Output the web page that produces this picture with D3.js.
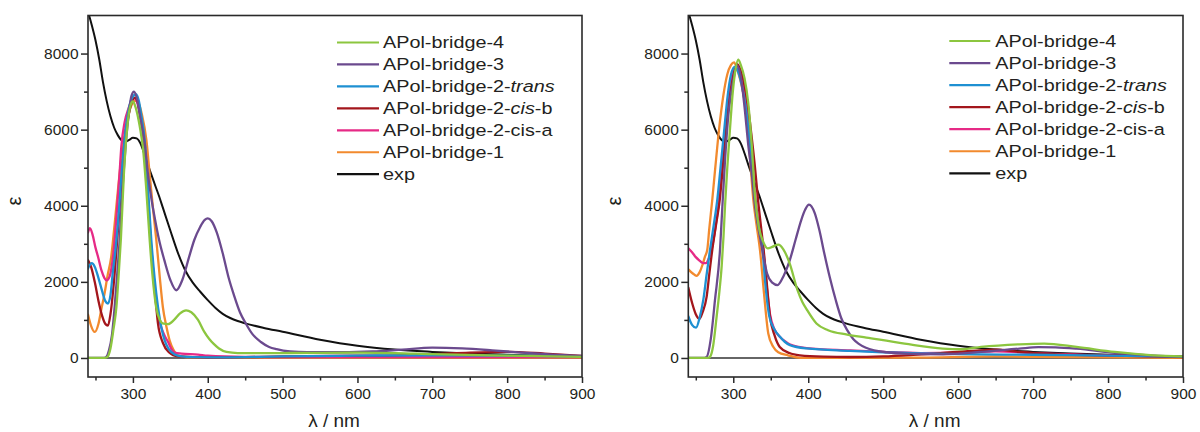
<!DOCTYPE html>
<html><head><meta charset="utf-8">
<script src="https://cdn.jsdelivr.net/npm/d3@7"></script>
<style>
body{margin:0;background:#fff}
svg{display:block}
text{font-family:"Liberation Sans",Arial,Helvetica,sans-serif;fill:#231f20}
</style>
</head><body>
<svg id="c" width="1200" height="432"></svg>
<script>
// ---------- data: [wavelength nm, epsilon] ----------
const expData = [[240,9100],[245,8750],[250,8350],[255,7850],[260,7250],[265,6750],[270,6350],[275,6050],[280,5850],[285,5720],[290,5690],[295,5730],[300,5790],[305,5770],[310,5640],[315,5380],[320,5080],[325,4800],[330,4520],[335,4250],[340,3950],[350,3350],[360,2770],[370,2300],[380,1980],[390,1740],[400,1520],[410,1320],[420,1160],[430,1050],[440,970],[450,910],[475,790],[500,690],[550,480],[600,320],[650,220],[700,160],[750,115],[800,85],[850,60],[900,40]];

// left panel
const leftBridge4 = [[240,0],[262,0],[266,30],[270,250],[274,750],[278,1350],[281,2200],[284,3150],[288,4850],[293,6170],[297,6650],[300,6740],[304,6560],[309,6100],[313.5,5500],[318,4400],[322.4,3100],[326,2200],[331,1340],[336,1000],[341,900],[347,890],[355,1000],[363,1170],[371,1250],[378,1200],[387,1000],[395,700],[402,500],[408,370],[415,250],[425,160],[440,130],[500,130],[600,140],[650,130],[700,100],[800,60],[900,30]];
const leftBridge3 = [[240,0],[260,0],[264,20],[268,200],[272,600],[275.6,1340],[279,2200],[282.3,3100],[286,4400],[290,5500],[295,6500],[298,6880],[301.5,7000],[305,6850],[310,6300],[316,5600],[320,4850],[325,4150],[329,3700],[335,3100],[342,2570],[350,2050],[358,1780],[366,2050],[375,2650],[382,3100],[390,3450],[396,3630],[400,3670],[405,3600],[412,3300],[420,2750],[428,2100],[435,1650],[443,1200],[451,900],[460,620],[471,420],[482,290],[492,230],[510,170],[533,150],[580,150],[620,170],[660,220],[700,270],[740,250],[780,200],[820,140],[860,90],[900,55]];
const leftTrans = [[240,2350],[245,2490],[249,2400],[254,2100],[259,1750],[263,1500],[266.7,1430],[270,1650],[273,2220],[277,2900],[280,3535],[283.5,4450],[286.8,5290],[290,5950],[293.4,6430],[298,6800],[304,6930],[308,6750],[311,6400],[315.7,5730],[320,4500],[324.6,3100],[329,2100],[333.5,1340],[338,800],[342.4,460],[348,230],[355.8,90],[365,40],[380,20],[420,15],[500,40],[600,60],[700,70],[800,60],[900,40]];
const leftCisB = [[240,2570],[244,2400],[249,2000],[254,1500],[259,1100],[263,900],[266.7,850],[270,1150],[275.6,2220],[279,3100],[282.3,3975],[286,5000],[289,5730],[294,6350],[298,6700],[302.5,6840],[306,6750],[310,6350],[315,5700],[319,4600],[323.7,3100],[328,2100],[333.5,900],[340,400],[348,150],[360,40],[400,10],[450,20],[500,40],[600,60],[650,70],[700,100],[750,140],[800,160],[850,115],[900,55]];
const leftCisA = [[240,3300],[242.5,3410],[246,3250],[250,2900],[253.4,2660],[258,2300],[262,2100],[265,2040],[269,2150],[273.4,2660],[276,3200],[279,3975],[282,4800],[284.5,5550],[289,6200],[294,6550],[298,6750],[302,6820],[306,6700],[310,6300],[315,5600],[319,4400],[323.5,3100],[328,2000],[332,1300],[338,800],[343,560],[347,420],[352,220],[356,140],[365,115],[387,90],[400,60],[450,30],[500,25],[900,20]];
const leftBridge1 = [[240,1140],[244,850],[249,684],[254,900],[258,1300],[262,1684],[266,2150],[271,2658],[275.5,3500],[280,4413],[284.5,5250],[289,5904],[294,6400],[299,6680],[304,6760],[308,6680],[312,6400],[318,5730],[323,4700],[327,3900],[331.3,3100],[336,2100],[340,1340],[345,800],[349,464],[354,220],[360,70],[370,25],[400,10],[900,10]];

// right panel
const rightBridge4 = [[240,0],[266,0],[269,30],[273,300],[277.8,1086],[281,1650],[284.5,2405],[287,3200],[289,4000],[292,5000],[295.6,6010],[298.9,6890],[302,7450],[306.7,7840],[310,7700],[315,7350],[320,6700],[325,5500],[329,4250],[334,3450],[340,3050],[346,2880],[352,2920],[360,2980],[367,2850],[375,2500],[385.7,1785],[392,1480],[398.5,1260],[411,906],[426.5,730],[452,616],[477.6,536],[528.6,378],[579.6,246],[605,229],[630.6,290],[681.6,360],[714.8,378],[758,290],[809,158],[860,70],[900,40]];
const rightBridge3 = [[240,0],[260,0],[264.5,30],[270,500],[275.6,1525],[282.3,2844],[285.5,4000],[289,5200],[294,6500],[300,7300],[305,7680],[310,7400],[315,6600],[320,5600],[324.5,4864],[329,4000],[334.7,3280],[340,2700],[345,2225],[352,1980],[359,1917],[367,2150],[375.5,2577],[383,3100],[390.8,3632],[396,3900],[401,4030],[408.7,3808],[415,3350],[421.4,2753],[429,2100],[436.7,1522],[444,1050],[452,730],[460,500],[467,378],[477,270],[487.8,202],[505,150],[528.6,114],[579.6,97],[630.6,158],[681.6,246],[707,285],[730,280],[758,246],[809,132],[860,62],[900,40]];
const rightTrans = [[240,1100],[245,870],[250.3,795],[255,1050],[260,1525],[264.5,2200],[269,2844],[274,3500],[278.7,4163],[283,5000],[287.5,5900],[292.5,6890],[297,7450],[302,7650],[306,7550],[311,7200],[316,6650],[321,5850],[326,4800],[331,3800],[339,2844],[343,1900],[348,1100],[355,750],[362.3,557],[369,420],[375.6,338],[397.8,250],[455.6,188],[500,150],[550,120],[600,100],[700,85],[800,60],[900,35]];
const rightCisB = [[240,1850],[245,1450],[250,1150],[254.7,1024],[259,1200],[264.5,1613],[268,2200],[272,2844],[277,3500],[282,4163],[286,5000],[290,5900],[295,6800],[300,7400],[305,7720],[309,7600],[314,7250],[319,6700],[324,5900],[329,5000],[333,4163],[337,3450],[341,2750],[345,1900],[349,1085],[355,600],[362,290],[375,130],[389,70],[420,35],[455.6,26],[500,40],[540,80],[580,132],[630.6,202],[651,220],[681.6,158],[733,97],[809,62],[900,26]];
const rightCisA = [[240,2885],[245,2780],[250,2650],[255,2560],[259,2500],[263.6,2493],[267,2600],[271,2844],[276,3400],[281,4163],[285,5100],[289,6000],[294,6890],[299,7450],[303,7620],[307,7550],[312,7200],[318,6600],[323,5700],[328,4500],[334,3500],[340,2844],[344,2000],[349,1150],[355,750],[362,560],[369,440],[376,350],[398,260],[456,200],[500,160],[550,130],[600,140],[650,175],[700,130],[800,70],[900,30]];
const rightBridge1 = [[240,2330],[246,2220],[251,2158],[255,2250],[259,2450],[262,2650],[265.3,2844],[268,3400],[272,4163],[276,5000],[281,6000],[286.7,6890],[292,7450],[297,7700],[301,7770],[305,7600],[310,7250],[315.6,6700],[321,5600],[326.7,4163],[331,3500],[335.6,2844],[341,1700],[346.7,645],[353.3,293],[360,150],[373,70],[389,5],[450,0],[550,10],[650,40],[750,20],[900,5]];

const seriesNames = ["APol-bridge-4","APol-bridge-3","APol-bridge-2-trans","APol-bridge-2-cis-b","APol-bridge-2-cis-a","APol-bridge-1","exp"];
const seriesColors = ["#8cc63f","#6b4a8e","#1e90d2","#a3161c","#e62a86","#f28a2e","#111111"];
const leftSeries = [leftBridge4,leftBridge3,leftTrans,leftCisB,leftCisA,leftBridge1,expData];
const rightSeries = [rightBridge4,rightBridge3,rightTrans,rightCisB,rightCisA,rightBridge1,expData];

const yMajorTicks = [0,2000,4000,6000,8000];
const yMinorTicks = [1000,3000,5000,7000];
const xMajorTicks = [300,400,500,600,700,800,900];
const xMinorTicks = [250,350,450,550,650,750,850];
const xDomain = [240,900];
const yDomain = [-500,9000];

// legend label parts: [text, italic]
const legendParts = [
  [["APol-bridge-4",false]],
  [["APol-bridge-3",false]],
  [["APol-bridge-2-",false],["trans",true]],
  [["APol-bridge-2-",false],["cis",true],["-b",false]],
  [["APol-bridge-2-cis-a",false]],
  [["APol-bridge-1",false]],
  [["exp",false]]
];

// ---------- drawing ----------
const svg = d3.select("#c");
const plotTop = 15.5, plotBottom = 377;
const panels = [
  {id:"L", left:88, right:582, data:leftSeries, lgX:337, lgY:42.5, lgStep:21.95, lgLen:42, lgGap:4, yLabX:21},
  {id:"R", left:688.3, right:1183, data:rightSeries, lgX:949.3, lgY:41, lgStep:22.05, lgLen:41, lgGap:5, yLabX:621}
];

panels.forEach(p => {
  const x = d3.scaleLinear().domain(xDomain).range([p.left, p.right]);
  const y = d3.scaleLinear().domain(yDomain).range([plotBottom, plotTop]);
  const g = svg.append("g");

  g.append("clipPath").attr("id","clip"+p.id)
    .append("rect").attr("x",p.left).attr("y",plotTop).attr("width",p.right-p.left).attr("height",plotBottom-plotTop);

  // zero line
  g.append("line").attr("x1",p.left).attr("x2",p.right).attr("y1",y(0)).attr("y2",y(0))
    .attr("stroke","#333").attr("stroke-width",1.4);

  const line = d3.line().x(d=>x(d[0])).y(d=>y(d[1])).curve(d3.curveMonotoneX);
  const order = [6,5,4,3,2,1,0];
  const cg = g.append("g").attr("clip-path","url(#clip"+p.id+")");
  order.forEach(i => {
    cg.append("path").datum(p.data[i]).attr("d",line)
      .attr("fill","none").attr("stroke",seriesColors[i])
      .attr("stroke-width", i===6 ? 2.0 : 2.3)
      .attr("stroke-linejoin","round").attr("stroke-linecap","round");
  });

  // axes
  const yMaj = d3.axisLeft(y).tickValues(yMajorTicks).tickSize(7).tickPadding(2.5).tickFormat(d3.format("d"));
  const yMin = d3.axisLeft(y).tickValues(yMinorTicks).tickSize(4).tickFormat("");
  const xMaj = d3.axisBottom(x).tickValues(xMajorTicks).tickSize(6).tickPadding(5).tickFormat(d3.format("d"));
  const xMin = d3.axisBottom(x).tickValues(xMinorTicks).tickSize(3.5).tickFormat("");
  [[yMaj,`translate(${p.left},0)`],[yMin,`translate(${p.left},0)`],[xMaj,`translate(0,${plotBottom})`],[xMin,`translate(0,${plotBottom})`]]
    .forEach(([ax,tr]) => {
      const a = g.append("g").attr("transform",tr).call(ax);
      a.select(".domain").remove();
      a.selectAll("line").attr("stroke","#2a2a2a").attr("stroke-width",1.5);
      a.selectAll("text").attr("font-size",15.5).attr("fill","#231f20")
        .attr("font-family","'Liberation Sans',Arial,sans-serif");
    });

  // frame
  g.append("rect").attr("x",p.left).attr("y",plotTop).attr("width",p.right-p.left).attr("height",plotBottom-plotTop)
    .attr("fill","none").attr("stroke","#2a2a2a").attr("stroke-width",1.6);

  // axis titles
  g.append("text").attr("transform",`translate(${p.yLabX},201) rotate(-90)`)
    .attr("text-anchor","middle").attr("font-size",20).text("ε");
  g.append("text").attr("x",(p.left+p.right)/2 - 1).attr("y",427)
    .attr("text-anchor","middle").attr("font-size",19).text("λ / nm");

  // legend
  const lg = g.append("g");
  seriesNames.forEach((name,i) => {
    const cy = p.lgY + i*p.lgStep;
    lg.append("line").attr("x1",p.lgX).attr("x2",p.lgX+p.lgLen).attr("y1",cy).attr("y2",cy)
      .attr("stroke",seriesColors[i]).attr("stroke-width",2.2);
    const t = lg.append("text")
      .attr("transform",`translate(${p.lgX+p.lgLen+p.lgGap},${cy}) scale(1.2,1)`)
      .attr("dy","0.36em").attr("font-size",16.5);
    legendParts[i].forEach(([s,it]) => {
      t.append("tspan").attr("font-style", it ? "italic" : "normal").text(s);
    });
  });
});
</script>
</body></html>
